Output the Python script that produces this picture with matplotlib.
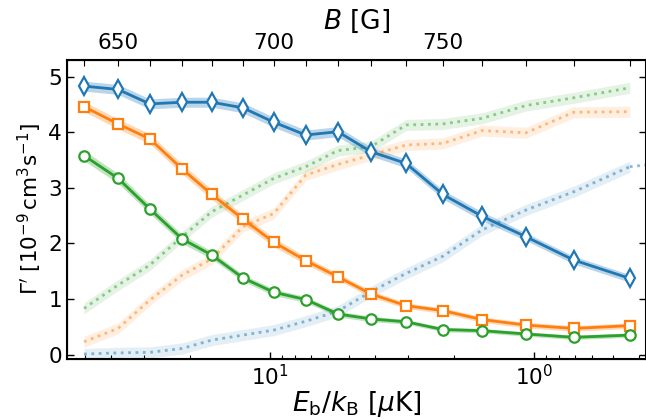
import numpy as np
import matplotlib.pyplot as plt
from matplotlib.ticker import NullLocator

# magnetic field of each measurement and the corresponding binding energy
B_field = [640, 650, 660, 670, 680, 690, 700, 710,
           720, 730, 740, 750, 760, 770, 780, 790]
E_b = [50.6, 37.6, 28.5, 21.5, 16.6, 12.66, 9.66, 7.31,
       5.53, 4.14, 3.05, 2.21, 1.574, 1.072, 0.706, 0.433]

# solid curves (with markers)
gamma_blue = [4.83, 4.77, 4.51, 4.54, 4.54, 4.44, 4.18, 3.95,
              4.01, 3.65, 3.44, 2.88, 2.49, 2.12, 1.70, 1.37]
gamma_orange = [4.46, 4.15, 3.88, 3.34, 2.88, 2.44, 2.02, 1.69,
                1.40, 1.09, 0.88, 0.79, 0.63, 0.53, 0.47, 0.52]
gamma_green = [3.58, 3.17, 2.62, 2.08, 1.79, 1.38, 1.12, 0.99,
               0.73, 0.64, 0.59, 0.45, 0.43, 0.37, 0.31, 0.35]
err_blue = [0.09, 0.09, 0.09, 0.09, 0.09, 0.09, 0.09, 0.09,
            0.09, 0.08, 0.08, 0.08, 0.08, 0.07, 0.07, 0.07]
err_orange = [0.09, 0.09, 0.09, 0.09, 0.09, 0.08, 0.08, 0.07,
              0.06, 0.06, 0.05, 0.05, 0.05, 0.05, 0.05, 0.05]
err_green = [0.09, 0.09, 0.08, 0.08, 0.07, 0.06, 0.06, 0.05,
             0.05, 0.05, 0.04, 0.04, 0.04, 0.04, 0.04, 0.04]

# faint dotted curves
dot_blue = [0.01, 0.03, 0.04, 0.11, 0.26, 0.35, 0.44, 0.60,
            0.78, 1.13, 1.46, 1.77, 2.24, 2.60, 2.93, 3.38]
dot_orange = [0.23, 0.47, 0.98, 1.43, 1.72, 2.30, 2.54, 3.23,
              3.42, 3.59, 3.77, 3.80, 4.03, 3.99, 4.36, 4.37]
dot_green = [0.83, 1.25, 1.61, 2.12, 2.57, 2.87, 3.17, 3.38,
             3.67, 3.74, 4.13, 4.15, 4.25, 4.48, 4.62, 4.80]
dot_err = [0.1, 0.1, 0.1, 0.1, 0.1, 0.1, 0.1, 0.1,
           0.1, 0.1, 0.1, 0.1, 0.1, 0.1, 0.1, 0.1]
# the blue dotted curve runs on past the right edge
blue_tail_E = [0.433, 0.30]
blue_tail_y = [3.38, 3.46]

colors = ["#1f77b4", "#ff7f0e", "#2ca02c"]
markers = ["d", "s", "o"]
msizes = [9, 7.5, 7.5]

plt.rcParams['mathtext.fontset'] = 'dejavusans'

fig = plt.figure(figsize=(6.46, 4.2), dpi=100)
ax = fig.add_axes([67/646, 1 - 359/420, 579/646, 299/420])
x = np.array(E_b)

# dotted curves first, behind everything
for y, c in zip([dot_blue, dot_orange, dot_green], colors):
    y = np.array(y)
    ax.fill_between(x, y - dot_err, y + dot_err, color=c, alpha=0.12, lw=0)
    ax.plot(x, y, ls=":", color=c, lw=2, alpha=0.5)
ax.plot(blue_tail_E, blue_tail_y, ls=":", color=colors[0], lw=2, alpha=0.5)

for y, e, c, m, ms in zip([gamma_blue, gamma_orange, gamma_green],
                          [err_blue, err_orange, err_green],
                          colors, markers, msizes):
    y = np.array(y)
    ax.fill_between(x, y - e, y + e, color=c, alpha=0.3, lw=0)
    ax.plot(x, y, color=c, lw=2, marker=m, ms=ms, mfc="white",
            mec=c, mew=1.6)

ax.set_xscale("log")
ax.set_xlim(58.7, 0.376)
ax.set_ylim(-0.08, 5.3)
ax.set_yticks([0, 1, 2, 3, 4, 5])
ax.tick_params(which="both", direction="in", right=True, labelsize=15.5)
ax.tick_params(which="major", length=5, width=1)
ax.tick_params(which="minor", length=3, width=0.8)
ax.set_xlabel(r"$E_\mathrm{b}/k_\mathrm{B}$ [$\mu$K]", fontsize=19, labelpad=0)
ax.set_ylabel(r"$\Gamma'$ [$10^{-9}\,\mathrm{cm}^3\mathrm{s}^{-1}$]",
              fontsize=15.5, labelpad=3)
for s in ax.spines.values():
    s.set_linewidth(1.5)

# secondary axis: magnetic field
ax2 = ax.twiny()
ax2.set_xscale("log")
ax2.set_xlim(ax.get_xlim())
ax2.set_xticks(E_b)
ax2.set_xticklabels([str(b) if b % 50 == 0 else "" for b in B_field])
ax2.xaxis.set_minor_locator(NullLocator())
ax2.tick_params(direction="in", length=4, width=0.8, labelsize=15.5, pad=5)
ax2.set_xlabel(r"$B$ [G]", fontsize=19, labelpad=3)

fig.savefig("out.png", dpi=100)
